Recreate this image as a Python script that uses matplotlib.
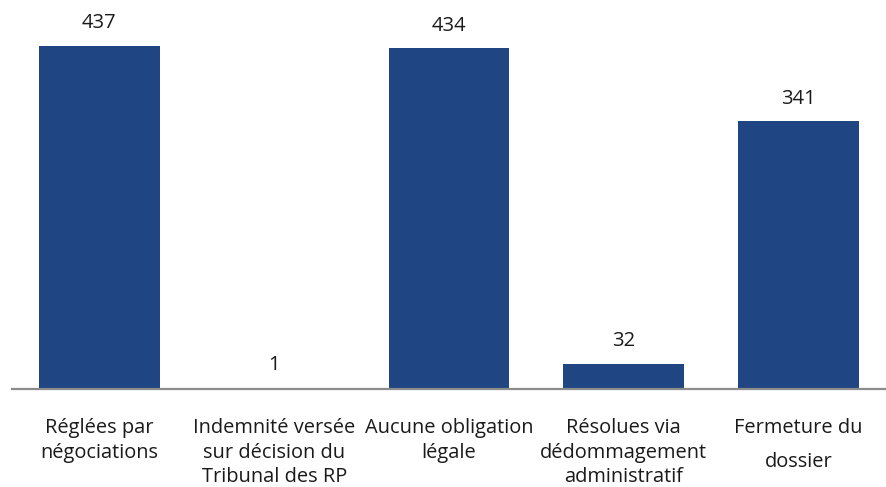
import matplotlib.pyplot as plt
import numpy as np

categories = ["Réglées par\nnégociations",
              "Indemnité versée\nsur décision du\nTribunal des RP",
              "Aucune obligation\nlégale",
              "Résolues via\ndédommagement\nadministratif",
              "Fermeture du\ndossier"]
values = [437, 1, 434, 32, 341]

plt.rcParams['font.family'] = ['Open Sans', 'DejaVu Sans']

fig = plt.figure(figsize=(8.86, 4.87), dpi=100)
ax = fig.add_axes([12 / 886, 98 / 487, 874 / 886, 389 / 487])

x = np.arange(len(values))
bars = ax.bar(x, values, width=0.69, color='#1f4582')
for xi, v in zip(x, values):
    ax.text(xi, v + 29, str(v), ha='center', va='center', fontsize=14.5, color='#1a1a1a')

ax.set_xlim(-0.5, len(values) - 0.5)
ax.set_ylim(0, 495.5)
for s in ['top', 'right', 'left']:
    ax.spines[s].set_visible(False)
ax.spines['bottom'].set_color('#8c8c8c')
ax.spines['bottom'].set_linewidth(1.6)
ax.set_yticks([])
ax.set_xticks(x)
ax.set_xticklabels([])
ax.tick_params(axis='x', length=0)

for xi, lab in zip(x, categories):
    ls = 1.9 if lab.startswith("Fermeture") else 1.3
    ax.text(xi, -37, lab, ha='center', va='top', fontsize=14.4, color='#1a1a1a',
            linespacing=ls, transform=ax.transData)

fig.savefig('out.png', dpi=100)
